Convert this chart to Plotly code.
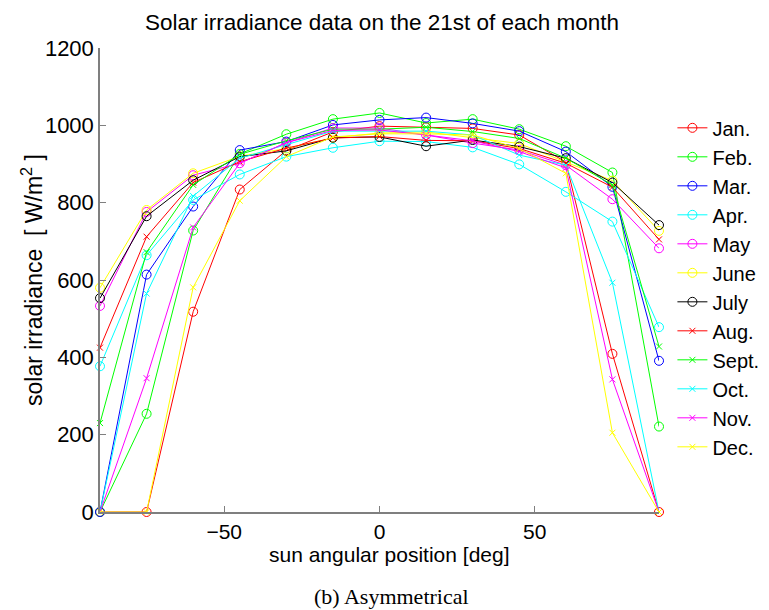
import plotly.graph_objects as go

angles = [-90, -75, -60, -45, -30, -15, 0, 15, 30, 45, 60, 75, 90]

months = ["Jan.", "Feb.", "Mar.", "Apr.", "May", "June", "July",
          "Aug.", "Sept.", "Oct.", "Nov.", "Dec."]

jan  = [0, 0, 518, 834, 935, 983, 998, 995, 992, 975, 905, 409, 0]
feb  = [0, 254, 728, 926, 977, 1016, 1032, 1006, 1016, 990, 946, 878, 221]
mar  = [0, 614, 790, 936, 958, 1001, 1014, 1020, 1005, 985, 932, 841, 391]
apr  = [377, 664, 807, 873, 919, 942, 959, 958, 943, 899, 828, 751, 478]
may  = [533, 776, 871, 902, 955, 993, 993, 975, 954, 936, 897, 809, 682]
june = [580, 781, 876, 920, 940, 968, 980, 983, 968, 953, 905, 857, 727]
july = [553, 765, 858, 919, 934, 968, 970, 946, 962, 945, 915, 852, 742]
aug  = [425, 712, 852, 906, 941, 967, 971, 961, 960, 940, 902, 840, 705]
sept = [230, 672, 846, 925, 960, 990, 990, 995, 984, 966, 915, 846, 428]
oct_ = [0, 565, 817, 915, 950, 985, 985, 985, 975, 923, 897, 593, 0]
nov  = [0, 346, 736, 902, 955, 987, 988, 975, 960, 932, 890, 343, 0]
dec  = [0, 0, 581, 805, 919, 970, 978, 978, 975, 940, 876, 205, 0]

series = [jan, feb, mar, apr, may, june, july, aug, sept, oct_, nov, dec]
colors = ["#FF0000", "#00FF00", "#0000FF", "#00FFFF", "#FF00FF", "#FFFF00",
          "#000000", "#FF0000", "#00FF00", "#00FFFF", "#FF00FF", "#FFFF00"]
symbols = ["circle-open"] * 7 + ["x-thin-open"] * 5

y_ticks = [0, 200, 400, 600, 800, 1000, 1200]
x_ticks = [-50, 0, 50]
x_tick_text = ["\u221250", "0", "50"]

fig = go.Figure()
for name, vals, col, sym in zip(months, series, colors, symbols):
    fig.add_trace(go.Scatter(
        x=angles, y=vals, name=name, mode="lines+markers",
        line=dict(color=col, width=1),
        marker=dict(symbol=sym, size=9 if sym == "circle-open" else 6,
                    color=col, line=dict(color=col, width=1)),
        cliponaxis=False,
    ))

font = "Liberation Sans, Arial, sans-serif"
fig.update_layout(
    width=769, height=610,
    margin=dict(l=100, r=110, t=48, b=98, autoexpand=False),
    paper_bgcolor="white", plot_bgcolor="white",
    font=dict(family=font, size=21, color="black"),
    showlegend=True,
    legend=dict(x=1.024, y=0.87, xanchor="left", yanchor="top",
                font=dict(size=20), tracegroupgap=0,
                itemwidth=30, bgcolor="rgba(0,0,0,0)"),
    xaxis=dict(range=[-90, 90], tickvals=x_ticks, ticktext=x_tick_text,
               showgrid=False, zeroline=False, showline=True,
               linecolor="#7f7f7f", linewidth=1.5, ticks="inside",
               ticklen=6, tickcolor="#7f7f7f", tickfont=dict(size=21)),
    yaxis=dict(range=[0, 1200], tickvals=y_ticks,
               showgrid=False, zeroline=False, showline=True,
               linecolor="#7f7f7f", linewidth=1.5, ticks="inside",
               ticklen=6, tickcolor="#7f7f7f", tickfont=dict(size=22)),
    annotations=[
        dict(text="Solar irradiance data on the 21st of each month",
             xref="paper", yref="paper", x=0.5, y=1.0, yshift=26, xshift=2,
             showarrow=False, font=dict(size=22.5), xanchor="center", yanchor="middle"),
        dict(text="sun angular position [deg]", xref="paper", yref="paper",
             x=0.5, y=0, yshift=-42, xshift=10, showarrow=False, font=dict(size=21),
             xanchor="center", yanchor="middle"),
        dict(text="solar irradiance  [ W/m<sup>2</sup> ]", xref="paper", yref="paper",
             x=0, y=0.5, xshift=-68, showarrow=False, textangle=-90,
             font=dict(size=23), xanchor="center", yanchor="middle"),
        dict(text="(b) Asymmetrical", xref="paper", yref="paper",
             x=0.5, y=0, yshift=-84, xshift=12, showarrow=False,
             font=dict(size=22, family="Liberation Serif, DejaVu Serif, serif"),
             xanchor="center", yanchor="middle"),
    ],
)

fig.write_html("out.html")
